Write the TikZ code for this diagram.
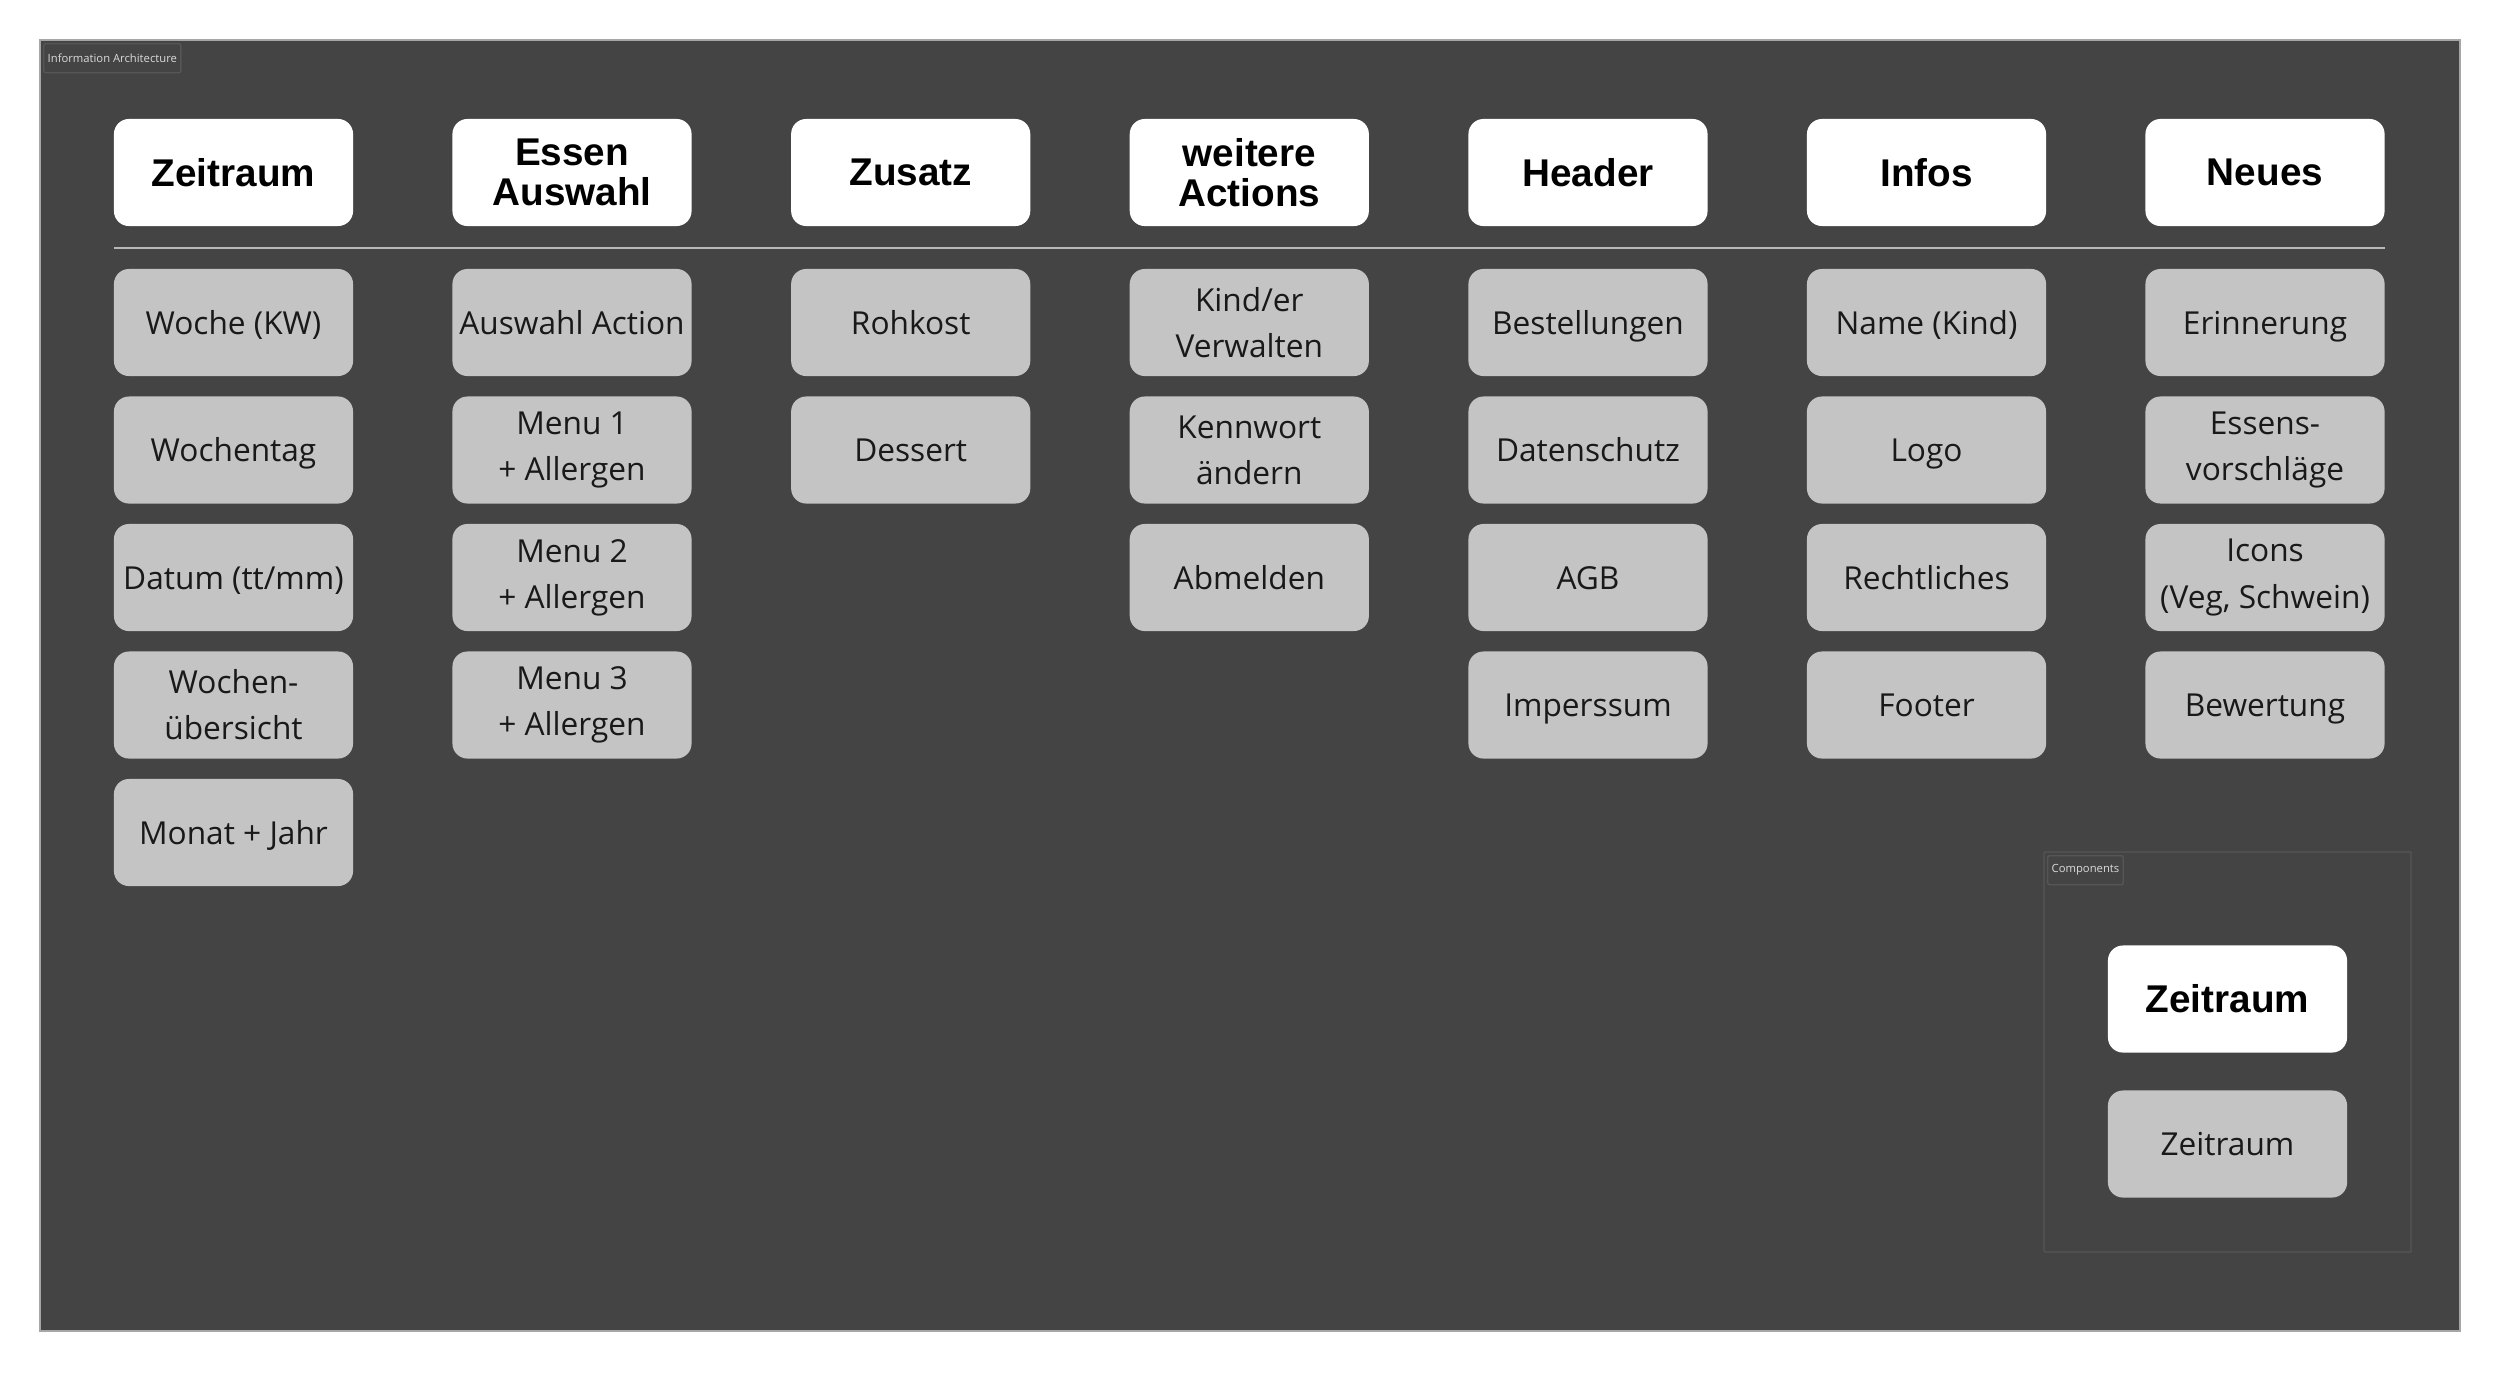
\documentclass[tikz,border=0pt]{standalone}
\usepackage{fontspec}
\setmainfont{Open Sans}
\newfontfamily\headfont{Liberation Sans}
\definecolor{paneldark}{HTML}{444444}
\definecolor{itemgrey}{HTML}{C4C4C4}
\definecolor{framegrey}{HTML}{565656}
\definecolor{tagtext}{HTML}{DADADA}
\definecolor{sepgrey}{HTML}{B8B8B8}
\tikzset{
  head/.style={fill=white, rounded corners=0.15cm, minimum width=2.39cm, minimum height=1.07cm,
    inner sep=0pt, align=center, text=black,
    font=\headfont\bfseries\fontsize{11}{11.4}\selectfont},
  item2/.style={fill=itemgrey, rounded corners=0.15cm, minimum width=2.39cm, minimum height=1.07cm,
    inner sep=0pt, align=center, text=black!90, font=\fontsize{9}{13.1}\selectfont},
  item/.style={item2, text height=0.95em, text depth=0.27em},
  tag/.style={draw=framegrey, line width=0.4pt, rounded corners=0.02cm, anchor=north west,
    minimum height=0.29cm, inner xsep=0.04cm, inner ysep=0pt, text=tagtext,
    font=\fontsize{3.2}{4}\selectfont}
}
\begin{document}
\begin{tikzpicture}[x=0.01cm,y=-0.01cm]
	\useasboundingbox (0,0) rectangle (2500,1372);
	\fill[white] (0,0) rectangle (2500,1372);
	\draw[fill=paneldark, draw=gray!70, line width=0.4pt] (40,40) rectangle (2460,1331);
	\node[tag] (info) at (43,43) {Information Architecture};
	
	% Kopfzeile
	\node[head] (zeitraum) at (233.5,172.5) {Zeitraum};
	\node[head] (essen) at (572,172.5) {Essen\\Auswahl};
	\node[head] (zusatz) at (910.7,172.5) {Zusatz};
	\node[head] (weitere) at (1249.3,172.5) {weitere\\Actions};
	\node[head] (header) at (1588,172.5) {Header};
	\node[head] (infos) at (1926.5,172.5) {Infos};
	\node[head] (neues) at (2265,172.5) {Neues};
	
	\draw[sepgrey, line width=0.6pt] (114,248) -- (2385,248);
	
	\node[item] (woche) at (233.5,322.5) {Woche (KW)};
	\node[item] (wochentag) at (233.5,450) {Wochentag};
	\node[item] (datum) at (233.5,577.5) {Datum (tt/mm)};
	\node[item2] (uebersicht) at (233.5,705) {Wochen-\\übersicht};
	\node[item] (monat) at (233.5,832.5) {Monat + Jahr};
	
	\node[item] (auswahl) at (572,322.5) {Auswahl Action};
	\node[item2] (menu1) at (572,450) {Menu 1\\+ Allergen};
	\node[item2] (menu2) at (572,577.5) {Menu 2\\+ Allergen};
	\node[item2] (menu3) at (572,705) {Menu 3\\+ Allergen};
	
	\node[item] (rohkost) at (910.7,322.5) {Rohkost};
	\node[item] (dessert) at (910.7,450) {Dessert};
	
	\node[item2] (kind) at (1249.3,322.5) {Kind/er\\Verwalten};
	\node[item2] (kennwort) at (1249.3,450) {Kennwort\\ändern};
	\node[item] (abmelden) at (1249.3,577.5) {Abmelden};
	
	\node[item] (bestellungen) at (1588,322.5) {Bestellungen};
	\node[item] (datenschutz) at (1588,450) {Datenschutz};
	\node[item] (agb) at (1588,577.5) {AGB};
	\node[item] (impressum) at (1588,705) {Imperssum};
	
	\node[item] (name) at (1926.5,322.5) {Name (Kind)};
	\node[item] (logo) at (1926.5,450) {Logo};
	\node[item] (recht) at (1926.5,577.5) {Rechtliches};
	\node[item] (footer) at (1926.5,705) {Footer};
	
	\node[item] (erinnerung) at (2265,322.5) {Erinnerung};
	\node[item2] (vorschlaege) at (2265,450) {Essens-\\vorschläge};
	\node[item2] (icons) at (2265,577.5) {Icons\\(Veg, Schwein)};
	\node[item] (bewertung) at (2265,705) {Bewertung};
	
	% Komponenten
	\draw[framegrey, line width=0.4pt, rounded corners=0.01cm] (2044,852) rectangle (2411,1252);
	\node[tag] (comp) at (2047,855) {Components};
	\node[head] (compHead) at (2227.5,999) {Zeitraum};
	\node[item] (compItem) at (2227.5,1144) {Zeitraum};
\end{tikzpicture}
\end{document}
